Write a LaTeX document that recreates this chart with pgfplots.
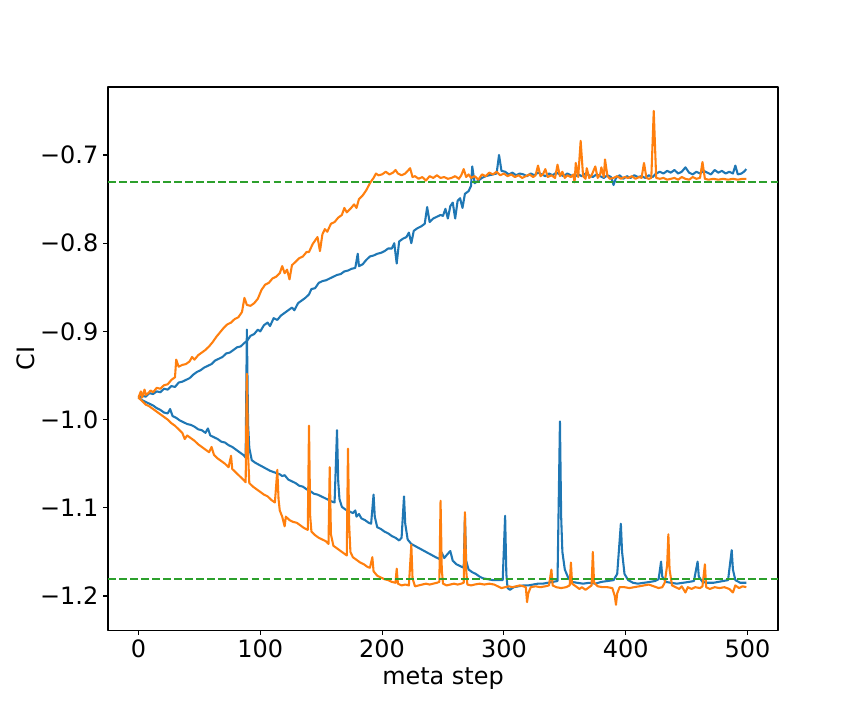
\documentclass[border=0pt]{standalone}
\usepackage{fontspec}
\setmainfont{DejaVu Sans}
\usepackage{pgfplots}
\pgfplotsset{compat=1.18}
\definecolor{tabblue}{HTML}{1F77B4}
\definecolor{taborange}{HTML}{FF7F0E}
\definecolor{tabgreen}{HTML}{2CA02C}

\begin{document}
\begin{tikzpicture}
\begin{axis}[
    scale only axis,
    width=482.4bp, height=391bp,
    xmin=-25, xmax=525, ymin=-1.2386, ymax=-0.6229,
    xtick={0,100,200,300,400,500},
    ytick={-1.2,-1.1,-1.0,-0.9,-0.8,-0.7},
    yticklabels={−1.2,−1.1,−1.0,−0.9,−0.8,−0.7},
    /pgf/number format/assume math mode=true,
    tick align=outside, tick pos=left,
    major tick length=3.5bp,
    every tick/.style={black, line width=0.8pt},
    axis line style={line width=0.8pt},
    ticklabel style={font=\fontsize{17.3}{20}\selectfont},
    label style={font=\fontsize{17.3}{20}\selectfont},
    xlabel={meta step}, ylabel={CI},
    ylabel shift=-3bp,
    line join=round,
]
% blue, upper
\addplot[tabblue, line width=1.5pt] coordinates {
(0,-0.975) (3,-0.973) (6,-0.974) (9,-0.970) (12,-0.971) (15,-0.968) (18,-0.969) (21,-0.965) (24,-0.966) (27,-0.962) (30,-0.963) (33,-0.958) (36,-0.957) (39,-0.955) (42,-0.953) (45,-0.949) (48,-0.946) (51,-0.944) (54,-0.941) (57,-0.939) (60,-0.937) (63,-0.933) (66,-0.931) (69,-0.929) (72,-0.925) (75,-0.924) (78,-0.921) (81,-0.918) (84,-0.917) (87,-0.913) (89,-0.911) (92,-0.905) (95,-0.903) (98,-0.898) (100,-0.900) (103,-0.893) (106,-0.890) (108,-0.894) (111,-0.885) (114,-0.887) (117,-0.882) (120,-0.879) (123,-0.876) (126,-0.873) (128,-0.876) (131,-0.868) (134,-0.865) (137,-0.862) (140,-0.858) (142,-0.852) (145,-0.851) (148,-0.845) (151,-0.843) (154,-0.842) (157,-0.840) (160,-0.838) (163,-0.836) (166,-0.835) (169,-0.832) (172,-0.831) (175,-0.829) (178,-0.828) (180,-0.812) (181,-0.826) (184,-0.824) (187,-0.819) (190,-0.815) (193,-0.814) (196,-0.812) (199,-0.811) (202,-0.809) (205,-0.806) (208,-0.806) (210,-0.800) (212,-0.823) (214,-0.798) (217,-0.795) (220,-0.793) (222,-0.788) (224,-0.800) (226,-0.786) (229,-0.783) (232,-0.781) (235,-0.778) (237,-0.759) (239,-0.776) (242,-0.772) (245,-0.770) (248,-0.768) (250,-0.769) (252,-0.761) (254,-0.772) (256,-0.758) (258,-0.754) (260,-0.772) (262,-0.752) (264,-0.749) (266,-0.760) (268,-0.744) (271,-0.741) (273,-0.735) (274,-0.713) (276,-0.732) (279,-0.729) (282,-0.726) (285,-0.724) (288,-0.723) (291,-0.722) (294,-0.721) (296,-0.700) (298,-0.718)
(301,-0.719) (304,-0.722) (307,-0.720) (310,-0.723) (313,-0.721) (316,-0.722) (319,-0.724) (322,-0.721) (325,-0.723) (328,-0.720) (331,-0.722) (334,-0.724) (337,-0.721) (340,-0.723) (343,-0.720) (346,-0.722) (349,-0.724) (352,-0.721) (355,-0.723) (358,-0.725) (361,-0.722) (364,-0.724) (367,-0.721) (370,-0.723) (373,-0.725) (376,-0.722) (379,-0.724) (382,-0.726) (385,-0.723) (388,-0.725) (390,-0.734) (392,-0.726) (395,-0.723) (398,-0.727) (401,-0.724) (404,-0.726) (407,-0.723) (410,-0.725) (413,-0.724) (416,-0.726) (419,-0.723) (422,-0.725) (425,-0.721) (428,-0.719) (431,-0.721) (434,-0.718) (437,-0.720) (440,-0.717) (443,-0.721) (446,-0.719) (449,-0.714) (452,-0.720) (455,-0.722) (458,-0.719) (461,-0.721) (464,-0.718) (467,-0.720) (470,-0.722) (473,-0.717) (476,-0.720) (479,-0.718) (482,-0.721) (485,-0.719) (488,-0.721) (490,-0.712) (492,-0.722) (495,-0.721) (497,-0.719) (499,-0.716)
};
% blue, lower
\addplot[tabblue, line width=1.5pt] coordinates {
(0,-0.975) (3,-0.978) (6,-0.980) (9,-0.982) (12,-0.984) (15,-0.987) (18,-0.989) (21,-0.992) (24,-0.993) (26,-0.988) (28,-0.996) (31,-0.998) (34,-1.001) (37,-1.003) (40,-1.005) (43,-1.006) (46,-1.008) (49,-1.011) (52,-1.012) (55,-1.015) (57,-1.010) (59,-1.018) (62,-1.020) (65,-1.022) (68,-1.025) (71,-1.026) (74,-1.029) (77,-1.031) (80,-1.034) (83,-1.037) (86,-1.040) (88,-1.043) (89,-0.898) (90,-1.005) (91,-1.032) (93,-1.046) (96,-1.049) (100,-1.052) (104,-1.055) (108,-1.058) (112,-1.060) (116,-1.062) (118,-1.064) (120,-1.063) (123,-1.068) (126,-1.070) (129,-1.072) (132,-1.075) (135,-1.076) (138,-1.079) (141,-1.081) (144,-1.084) (147,-1.085) (150,-1.087) (153,-1.089) (156,-1.091) (159,-1.093) (161,-1.094) (163,-1.012) (164,-1.070) (165,-1.090) (167,-1.099) (170,-1.102) (173,-1.104) (176,-1.106) (178,-1.103) (179,-1.110) (181,-1.107) (183,-1.112) (186,-1.114) (189,-1.117) (191,-1.118) (193,-1.085) (194,-1.110) (196,-1.122) (199,-1.124) (202,-1.127) (205,-1.129) (208,-1.132) (211,-1.134) (214,-1.137) (216,-1.134) (218,-1.087) (219,-1.118) (221,-1.136) (224,-1.141) (228,-1.144) (232,-1.147) (236,-1.150) (240,-1.153) (244,-1.156) (247,-1.158) (249,-1.151) (251,-1.157) (254,-1.152) (256,-1.149) (258,-1.160) (261,-1.164) (264,-1.166) (267,-1.168) (268,-1.110) (269,-1.160) (271,-1.170) (274,-1.173) (277,-1.175) (280,-1.178) (283,-1.180) (287,-1.181) (291,-1.182) (295,-1.182) (299,-1.182) (301,-1.109) (302,-1.175) (303,-1.191) (305,-1.193) (308,-1.190) (312,-1.189) (316,-1.188) (320,-1.188) (324,-1.187) (328,-1.186) (332,-1.186) (336,-1.185) (340,-1.184) (344,-1.183) (346,-1.002) (347,-1.110) (348,-1.150) (350,-1.170) (353,-1.180) (356,-1.184) (360,-1.185) (365,-1.186) (370,-1.185) (375,-1.186) (380,-1.184) (385,-1.183) (390,-1.182) (393,-1.175) (396,-1.118) (397,-1.150) (399,-1.175) (402,-1.182) (406,-1.185) (410,-1.186) (415,-1.185) (420,-1.184) (424,-1.183) (427,-1.181) (429,-1.161) (430,-1.178) (433,-1.184) (437,-1.185) (442,-1.186) (447,-1.185) (452,-1.184) (456,-1.183) (459,-1.161) (460,-1.178) (463,-1.184) (467,-1.185) (472,-1.185) (476,-1.184) (480,-1.183) (484,-1.182) (487,-1.148) (488,-1.170) (490,-1.182) (494,-1.185) (499,-1.185)
};
% orange, upper
\addplot[taborange, line width=1.5pt] coordinates {
(0,-0.975) (2,-0.968) (3,-0.975) (5,-0.966) (6,-0.972) (8,-0.970) (10,-0.967) (12,-0.969) (15,-0.964) (18,-0.965) (21,-0.961) (24,-0.960) (27,-0.955) (30,-0.952) (31,-0.932) (33,-0.940) (36,-0.938) (39,-0.937) (42,-0.934) (44,-0.929) (46,-0.932) (49,-0.927) (52,-0.924) (55,-0.921) (58,-0.917) (61,-0.912) (64,-0.906) (67,-0.901) (70,-0.896) (73,-0.892) (76,-0.890) (79,-0.886) (82,-0.884) (85,-0.878) (87,-0.862) (89,-0.870) (92,-0.871) (95,-0.868) (98,-0.863) (101,-0.853) (104,-0.847) (107,-0.845) (110,-0.840) (113,-0.838) (116,-0.834) (118,-0.826) (120,-0.834) (122,-0.830) (124,-0.841) (126,-0.825) (129,-0.821) (132,-0.817) (135,-0.815) (138,-0.810) (140,-0.810) (143,-0.801) (145,-0.797) (147,-0.793) (149,-0.809) (151,-0.790) (153,-0.784) (155,-0.787) (158,-0.778) (161,-0.776) (164,-0.771) (167,-0.768) (169,-0.760) (171,-0.765) (174,-0.761) (177,-0.756) (179,-0.760) (181,-0.750) (184,-0.746) (187,-0.740) (190,-0.732) (193,-0.726) (195,-0.721) (197,-0.723) (200,-0.722) (203,-0.719) (206,-0.722) (209,-0.720) (211,-0.717) (213,-0.721) (216,-0.723) (219,-0.721) (223,-0.715) (225,-0.725) (227,-0.724) (230,-0.727) (233,-0.725) (236,-0.729) (239,-0.724) (242,-0.726) (245,-0.723) (248,-0.726) (251,-0.725) (254,-0.727) (257,-0.726) (260,-0.724) (263,-0.727) (265,-0.723) (267,-0.716) (269,-0.725) (271,-0.722) (273,-0.726) (276,-0.724) (279,-0.728) (282,-0.722) (285,-0.724) (288,-0.720) (291,-0.722) (294,-0.719) (297,-0.723) (300,-0.721)
(303,-0.724) (306,-0.722) (309,-0.725) (312,-0.723) (315,-0.726) (318,-0.724) (321,-0.722) (324,-0.725) (326,-0.723) (328,-0.712) (330,-0.724) (332,-0.722) (334,-0.716) (336,-0.725) (339,-0.723) (342,-0.726) (344,-0.711) (346,-0.724) (348,-0.719) (350,-0.726) (352,-0.723) (355,-0.725) (357,-0.722) (358,-0.731) (359,-0.709) (361,-0.725) (363,-0.684) (365,-0.724) (367,-0.727) (368,-0.715) (370,-0.726) (372,-0.723) (375,-0.713) (377,-0.726) (379,-0.722) (380,-0.714) (382,-0.725) (383,-0.705) (385,-0.724) (387,-0.727) (390,-0.726) (393,-0.724) (396,-0.727) (399,-0.725) (402,-0.726) (405,-0.724) (408,-0.727) (411,-0.725) (413,-0.726) (415,-0.709) (417,-0.726) (419,-0.727) (421,-0.726) (423,-0.650) (425,-0.726) (428,-0.727) (431,-0.726) (434,-0.728) (437,-0.727) (440,-0.726) (443,-0.728) (446,-0.725) (449,-0.727) (452,-0.728) (455,-0.725) (458,-0.727) (461,-0.726) (463,-0.708) (465,-0.727) (468,-0.728) (472,-0.727) (476,-0.728) (480,-0.727) (484,-0.728) (488,-0.727) (492,-0.728) (496,-0.727) (499,-0.727)
};
% orange, lower
\addplot[taborange, line width=1.5pt] coordinates {
(0,-0.975) (3,-0.979) (6,-0.983) (9,-0.985) (12,-0.988) (15,-0.991) (18,-0.994) (21,-0.997) (24,-1.000) (27,-1.004) (30,-1.007) (33,-1.011) (36,-1.015) (38,-1.022) (40,-1.018) (43,-1.021) (46,-1.024) (49,-1.028) (52,-1.031) (55,-1.034) (58,-1.037) (60,-1.031) (62,-1.040) (65,-1.044) (68,-1.047) (71,-1.050) (74,-1.054) (76,-1.041) (77,-1.056) (80,-1.060) (83,-1.064) (86,-1.068) (88,-1.071) (89,-0.948) (90,-1.040) (91,-1.072) (94,-1.076) (97,-1.079) (100,-1.082) (103,-1.085) (106,-1.087) (109,-1.091) (112,-1.094) (114,-1.057) (115,-1.090) (116,-1.103) (118,-1.110) (120,-1.121) (121,-1.110) (124,-1.114) (127,-1.116) (130,-1.117) (133,-1.120) (136,-1.123) (139,-1.125) (140,-1.007) (141,-1.110) (142,-1.127) (145,-1.131) (148,-1.134) (151,-1.136) (154,-1.138) (156,-1.141) (157,-1.054) (158,-1.130) (160,-1.143) (163,-1.146) (166,-1.149) (169,-1.152) (171,-1.154) (172,-1.033) (173,-1.120) (174,-1.150) (176,-1.156) (179,-1.159) (182,-1.162) (185,-1.164) (188,-1.167) (190,-1.168) (192,-1.156) (193,-1.172) (196,-1.177) (199,-1.179) (202,-1.181) (205,-1.182) (208,-1.184) (211,-1.185) (212,-1.169) (213,-1.186) (216,-1.188) (219,-1.187) (222,-1.188) (224,-1.142) (225,-1.180) (227,-1.189) (230,-1.188) (233,-1.187) (236,-1.186) (239,-1.187) (242,-1.186) (245,-1.185) (247,-1.184) (248,-1.092) (249,-1.170) (250,-1.186) (253,-1.188) (256,-1.187) (259,-1.186) (262,-1.187) (265,-1.186) (267,-1.185) (268,-1.105) (269,-1.170) (270,-1.187) (273,-1.188) (276,-1.187) (280,-1.186) (284,-1.187) (288,-1.186) (292,-1.187) (295,-1.189) (298,-1.191) (301,-1.190) (304,-1.189) (307,-1.190) (310,-1.189) (313,-1.188) (316,-1.189) (318,-1.190) (319,-1.207) (320,-1.197) (322,-1.190) (326,-1.189) (330,-1.190) (334,-1.189) (337,-1.188) (339,-1.170) (340,-1.188) (343,-1.190) (347,-1.191) (351,-1.190) (354,-1.188) (355,-1.162) (356,-1.186) (359,-1.189) (362,-1.192) (364,-1.190) (367,-1.193) (370,-1.190) (372,-1.188) (373,-1.150) (374,-1.185) (377,-1.189) (381,-1.190) (385,-1.190) (389,-1.191) (391,-1.200) (392,-1.210) (393,-1.197) (395,-1.190) (399,-1.190) (403,-1.191) (407,-1.190) (411,-1.189) (415,-1.188) (419,-1.187) (423,-1.189) (427,-1.191) (430,-1.190) (432,-1.185) (434,-1.165) (435,-1.130) (436,-1.170) (438,-1.188) (441,-1.190) (444,-1.192) (446,-1.189) (449,-1.196) (451,-1.190) (454,-1.192) (457,-1.190) (461,-1.191) (463,-1.189) (465,-1.164) (466,-1.190) (469,-1.192) (473,-1.190) (477,-1.191) (481,-1.190) (485,-1.192) (488,-1.196) (490,-1.188) (493,-1.191) (496,-1.189) (499,-1.190)
};
% reference levels
\addplot[tabgreen, line width=1.5pt, dash pattern=on 5.55bp off 2.4bp] coordinates {(-25,-0.731) (525,-0.731)};
\addplot[tabgreen, line width=1.5pt, dash pattern=on 5.55bp off 2.4bp] coordinates {(-25,-1.181) (525,-1.181)};
\end{axis}
\path ([xshift=-77.76bp, yshift=-64.8bp]current axis.south west) rectangle ([xshift=61.92bp, yshift=62.64bp]current axis.north east);
\end{tikzpicture}
\end{document}
